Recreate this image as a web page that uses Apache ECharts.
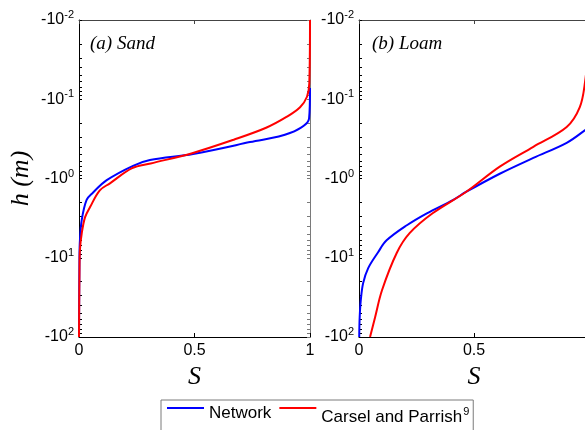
<!DOCTYPE html>
<html>
<head>
<meta charset="utf-8">
<script src="https://cdn.jsdelivr.net/npm/echarts@6/dist/echarts.min.js"></script>
<style>
  html, body { margin: 0; padding: 0; background: #fff; }
  #main { width: 585px; height: 430px; }
</style>
</head>
<body>
<div id="main"></div>
<script>
// (a) Sand - pressure head h (m) against saturation S
var sandNetS = [0, 0.002, 0.004, 0.012, 0.033, 0.06, 0.12, 0.234, 0.307, 0.494, 0.74, 0.913, 0.996, 1.0];
var sandNetH = [-100, -10, -6.03, -3.31, -1.86, -1.51, -1.05, -0.692, -0.585, -0.49, -0.347, -0.267, -0.174, -0.072];
var sandCpS = [0, 0.002, 0.004, 0.012, 0.026, 0.048, 0.09, 0.134, 0.23, 0.31, 0.49, 0.67, 0.81, 0.9, 0.957, 0.987, 0.997, 1.0];
var sandCpH = [-100, -15.8, -7.94, -4.9, -3.09, -2.29, -1.41, -1.15, -0.741, -0.646, -0.479, -0.324, -0.229, -0.166, -0.126, -0.093, -0.063, -0.01];
// (b) Loam
var loamNetS = [0.001, 0.003, 0.008, 0.018, 0.04, 0.083, 0.12, 0.208, 0.295, 0.41, 0.465, 0.612, 0.758, 0.903, 0.983, 1.0];
var loamNetH = [-100, -56.2, -33.9, -20.9, -13.5, -8.51, -6.03, -3.89, -2.75, -1.86, -1.48, -0.871, -0.55, -0.355, -0.245, -0.219];
var loamCpS = [0.048, 0.07, 0.1, 0.164, 0.22, 0.32, 0.465, 0.612, 0.758, 0.903, 0.96, 0.983, 0.995, 1.0];
var loamCpH = [-100, -56.2, -25.7, -8.71, -4.9, -2.75, -1.48, -0.708, -0.398, -0.224, -0.126, -0.06, -0.025, -0.01];

var decades = [0.01, 0.1, 1, 10, 100];
var seriesNames = ['Network', 'Carsel and Parrish'];

// log ticks 1..9 in every decade (axis shows |h|)
var logTicks = [];
decades.slice(0, 4).forEach(function (d) {
    for (var k = 1; k < 10; k++) logTicks.push(+(d * k).toPrecision(3));
});
logTicks.push(100);

function pairs(s, h) {
    return s.map(function (v, i) { return [v, Math.abs(h[i])]; });
}

var sans = 'Liberation Sans';
var serif = 'Liberation Serif';
var grey = '#7a7a7a';

function xAx(grid, pos) {
    var main = pos === 'bottom';
    return {
        type: 'value', gridIndex: grid, position: pos, min: 0, max: 1, interval: 0.5,
        name: main ? 'S' : '', nameLocation: 'middle', nameGap: 20,
        nameTextStyle: { fontFamily: serif, fontStyle: 'italic', fontSize: 26, color: '#000' },
        axisLine: { show: true, onZero: false, lineStyle: { color: main ? '#000' : '#444', width: 1 } },
        axisTick: { show: true, inside: true, length: 4, lineStyle: { color: main ? '#000' : '#444' } },
        axisLabel: { show: main, margin: 6, fontFamily: sans, fontSize: 16, color: '#000' },
        splitLine: { show: false }
    };
}

function yAx(grid, pos) {
    var main = pos === 'left';
    return {
        type: 'log', logBase: 10, gridIndex: grid, position: pos, inverse: true, min: 0.01, max: 100,
        name: main && grid === 0 ? 'h (m)' : '', nameLocation: 'middle', nameGap: 45, nameRotate: 90,
        nameTextStyle: { fontFamily: serif, fontStyle: 'italic', fontSize: 26, color: '#000' },
        axisLine: { show: true, onZero: false, lineStyle: { color: main ? '#000' : grey, width: 1 } },
        axisTick: { show: true, inside: true, length: 3, customValues: logTicks, lineStyle: { color: main ? '#000' : grey } },
        axisLabel: {
            show: main, margin: 5, customValues: decades,
            formatter: function (v) {
                return '{b|-10}{e|' + Math.round(Math.log10(v)) + '}';
            },
            rich: {
                b: { fontFamily: sans, fontSize: 16, color: '#000' },
                e: { fontFamily: sans, fontSize: 11, color: '#000', padding: [0, 0, 10, 0] }
            }
        },
        splitLine: { show: false }
    };
}

function line(name, grid, data, color) {
    return {
        name: name, type: 'line', xAxisIndex: grid * 2, yAxisIndex: grid * 2,
        data: data, showSymbol: false, smooth: 0.35, clip: true,
        lineStyle: { color: color, width: 2 }, itemStyle: { color: color }
    };
}

var myChart = echarts.init(document.getElementById('main'), null, { renderer: 'canvas' });
myChart.setOption({
    animation: false,
    backgroundColor: '#fff',
    title: [
        { text: '(a) Sand', left: 90, top: 34, padding: 0,
          textStyle: { fontFamily: serif, fontStyle: 'italic', fontWeight: 'normal', fontSize: 19, color: '#000' } },
        { text: '(b) Loam', left: 372, top: 34, padding: 0,
          textStyle: { fontFamily: serif, fontStyle: 'italic', fontWeight: 'normal', fontSize: 19, color: '#000' } }
    ],
    grid: [
        { left: 79, top: 20, width: 231, height: 317, show: false, outerBoundsMode: 'none', containLabel: false },
        { left: 359, top: 20, width: 230, height: 317, show: false, outerBoundsMode: 'none', containLabel: false }
    ],
    xAxis: [xAx(0, 'bottom'), xAx(0, 'top'), xAx(1, 'bottom'), xAx(1, 'top')],
    yAxis: [yAx(0, 'left'), yAx(0, 'right'), yAx(1, 'left'), yAx(1, 'right')],
    legend: {
        data: seriesNames, left: 161, top: 400, orient: 'horizontal',
        // line sits at the top of the item box, as in the original figure
        icon: 'path://M0,0H37V2H0ZM0,13H0.01V13.01H0Z', itemWidth: 37, itemHeight: 14, itemGap: 8,
        padding: [5, 4, 16, 6], borderColor: grey, borderWidth: 1,
        formatter: function (n) {
            return n === 'Carsel and Parrish' ? '{t|Carsel and Parrish}{s|9}' : n;
        },
        textStyle: {
            fontFamily: sans, fontSize: 17, color: '#000',
            rich: {
                t: { fontFamily: sans, fontSize: 17, color: '#000', padding: [8, 0, 0, 0] },
                s: { fontFamily: sans, fontSize: 11, color: '#000', padding: [0, 0, 4, 1] }
            }
        }
    },
    series: [
        line(seriesNames[0], 0, pairs(sandNetS, sandNetH), '#0000ff'),
        line(seriesNames[1], 0, pairs(sandCpS, sandCpH), '#ff0000'),
        line(seriesNames[0], 1, pairs(loamNetS, loamNetH), '#0000ff'),
        line(seriesNames[1], 1, pairs(loamCpS, loamCpH), '#ff0000')
    ]
});
</script>
</body>
</html>
